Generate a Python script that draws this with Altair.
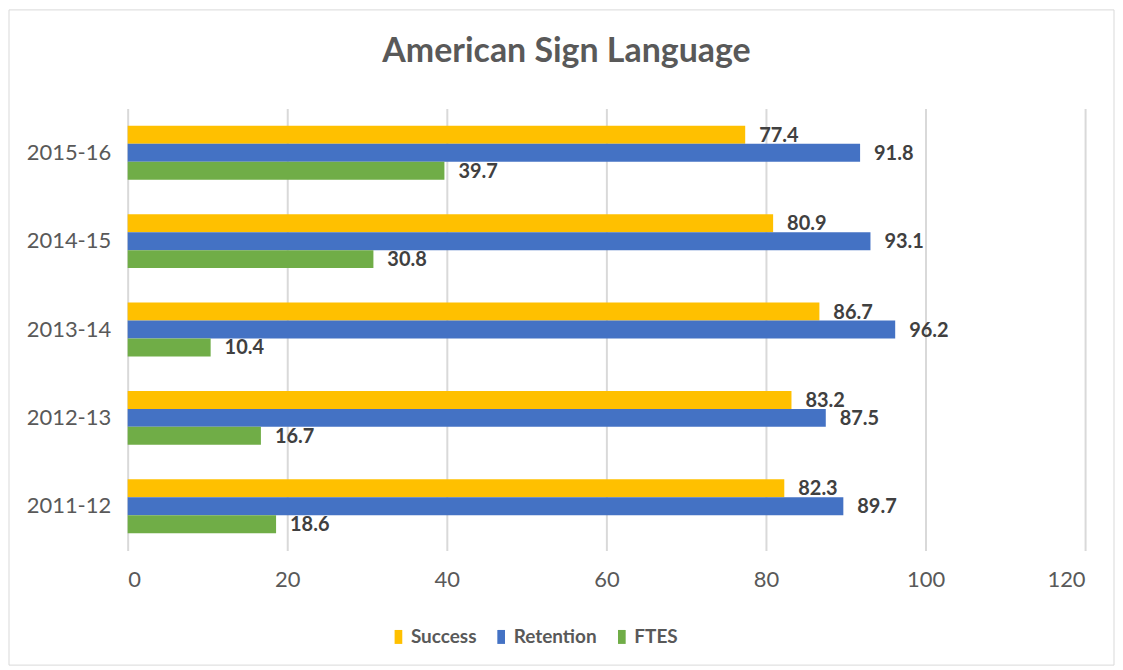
import altair as alt
import pandas as pd

years = ["2011-12", "2012-13", "2013-14", "2014-15", "2015-16"]
series = ["Success", "Retention", "FTES"]
success = [82.3, 83.2, 86.7, 80.9, 77.4]
retention = [89.7, 87.5, 96.2, 93.1, 91.8]
ftes = [18.6, 16.7, 10.4, 30.8, 39.7]
colors = ["#FFC000", "#4472C4", "#70AD47"]
x_ticks = [0, 20, 40, 60, 80, 100, 120]
title_text = "American Sign Language"

rows = []
for s, vals in zip(series, [success, retention, ftes]):
    for y, v in zip(years, vals):
        rows.append({"year": y, "series": s, "value": v, "label": f"{v:.1f}"})
df = pd.DataFrame(rows)

year_order = years[::-1]
FONT = "Lato"

base = alt.Chart(df).encode(
    y=alt.Y(
        "year:N", sort=year_order, title=None,
        scale=alt.Scale(paddingInner=0.39, paddingOuter=0.195),
        axis=alt.Axis(domain=False, ticks=False, grid=False, labelPadding=17,
                      labelFontSize=22, labelColor="#595959", labelFont=FONT),
    ),
    yOffset=alt.YOffset("series:N", sort=series,
                        scale=alt.Scale(paddingInner=0, paddingOuter=0)),
)

bars = base.mark_bar().encode(
    x=alt.X(
        "value:Q", title=None, scale=alt.Scale(domain=[0, 120]),
        axis=alt.Axis(values=x_ticks, domain=False, ticks=False, grid=True,
                      gridColor="#D9D9D9", gridWidth=2, labelPadding=19,
                      labelFontSize=22, labelColor="#595959", labelFont=FONT),
    ),
    color=alt.Color(
        "series:N", sort=series,
        scale=alt.Scale(domain=series, range=colors),
        legend=alt.Legend(
            title=None, orient="none", legendX=262, legendY=520,
            direction="horizontal",
            symbolType="M-0.55,-1L0.55,-1L0.55,1L-0.55,1Z",
            symbolSize=196, symbolStrokeWidth=0,
            labelFont=FONT, labelFontSize=19, labelFontWeight="bold",
            labelColor="#595959", labelOffset=3, columnPadding=15, padding=0,
        ),
    ),
)

labels = base.mark_text(
    align="left", baseline="middle", dx=14, dy=1,
    font=FONT, fontSize=20, fontWeight="bold", color="#404040",
).encode(x="value:Q", text="label:N")

frame = alt.Chart(pd.DataFrame({"k": [0]})).mark_rect(
    fill="transparent", stroke="#D9D9D9", strokeWidth=1
).encode(x=alt.value(-119), x2=alt.value(989), y=alt.value(-99), y2=alt.value(558))

title = alt.Chart(pd.DataFrame({"t": [title_text]})).mark_text(
    font=FONT, fontSize=34, fontWeight="bold", color="#595959",
    align="center", baseline="middle",
).encode(x=alt.value(440), y=alt.value(-57), text="t:N")

chart = alt.layer(frame, bars, labels, title).properties(
    width=960, height=443, padding=0
).configure_view(stroke=None)

chart.save("out.html", embed_options={"renderer": "svg", "actions": False})
